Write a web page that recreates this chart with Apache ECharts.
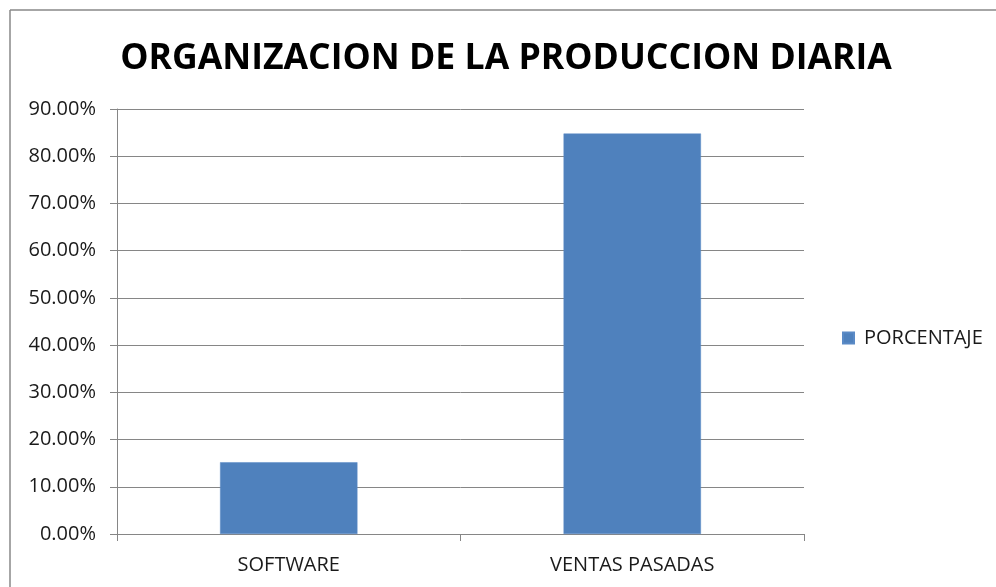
<!DOCTYPE html>
<html>
<head>
<meta charset="utf-8">
<script src="https://cdn.jsdelivr.net/npm/echarts@6/dist/echarts.min.js"></script>
<style>
html,body{margin:0;padding:0;background:#fff;}
#c{width:996px;height:587px;}
</style>
</head>
<body>
<div id="c"></div>
<script>
const titleText = 'ORGANIZACION DE LA PRODUCCION DIARIA';
const categories = ['SOFTWARE', 'VENTAS PASADAS'];
const seriesName = 'PORCENTAJE';
const values = [15.2, 84.8];
const yMin = 0, yMax = 90, yStep = 10;

const chart = echarts.init(document.getElementById('c'), null, {renderer: 'canvas'});
const font = '"Open Sans", sans-serif';
const grey = '#868686';
chart.setOption({
  animation: false,
  backgroundColor: '#ffffff',
  graphic: [
    {type: 'line', shape: {x1: 10, y1: 10, x2: 996, y2: 10}, style: {stroke: '#888', lineWidth: 1.5}},
    {type: 'line', shape: {x1: 10, y1: 10, x2: 10, y2: 587}, style: {stroke: '#888', lineWidth: 1.5}}
  ],
  title: {
    text: titleText,
    left: 501, top: 36, textAlign: 'center',
    textStyle: {fontFamily: font, fontWeight: 'bold', fontSize: 35.6, color: '#000'}
  },
  legend: {
    data: [seriesName],
    orient: 'vertical',
    left: 837, top: 323,
    itemWidth: 11, itemHeight: 11,
    icon: 'rect',
    textStyle: {fontFamily: font, fontSize: 20, color: '#1a1a1a', padding: [0, 0, 0, 5]}
  },
  grid: {left: 117, right: 192, top: 109, bottom: 53, containLabel: false},
  xAxis: {
    type: 'category',
    data: categories,
    axisLine: {lineStyle: {color: grey, width: 1}},
    axisTick: {show: true, length: 7, lineStyle: {color: grey}},
    axisLabel: {fontFamily: font, fontSize: 20, color: '#1a1a1a', margin: 21}
  },
  yAxis: {
    type: 'value',
    min: yMin, max: yMax, interval: yStep,
    axisLine: {show: true, lineStyle: {color: grey, width: 1}},
    axisTick: {show: true, length: 7, lineStyle: {color: grey}},
    splitLine: {lineStyle: {color: grey, width: 1}},
    axisLabel: {fontFamily: font, fontSize: 20, color: '#1a1a1a', margin: 21,
      formatter: v => v.toFixed(2) + '%'}
  },
  series: [{
    name: seriesName,
    type: 'bar',
    data: values,
    barWidth: '40%',
    itemStyle: {color: '#4F81BD', borderColor: '#5a8ac6', borderWidth: 0.5}
  }]
});
</script>
</body>
</html>
